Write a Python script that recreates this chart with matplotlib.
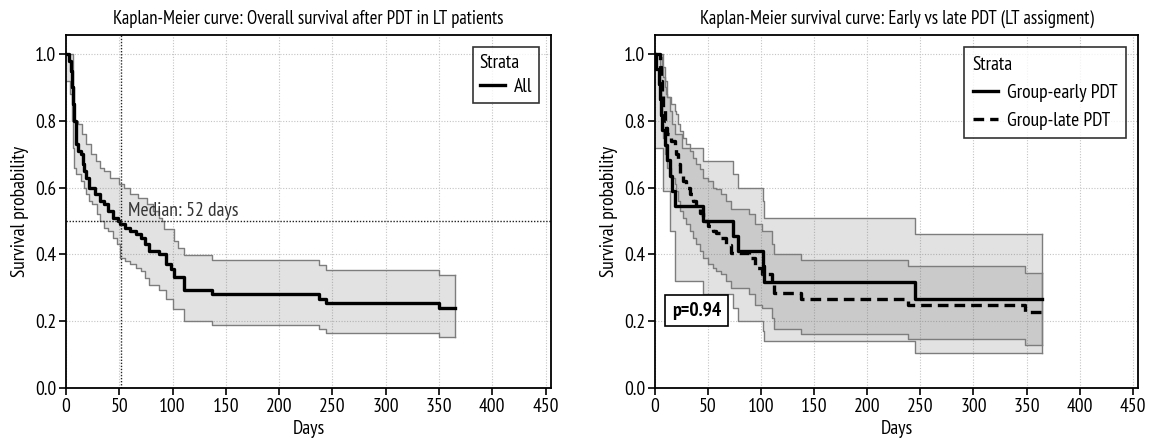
import matplotlib

matplotlib.use("Agg")

import matplotlib.pyplot as plt  # noqa: E402
from matplotlib import font_manager  # noqa: E402
import numpy as np  # noqa: E402

_installed = {f.name for f in font_manager.fontManager.ttflist}
_wanted = ["Myriad Pro", "PT Sans Narrow", "Fira Sans Condensed", "Roboto Condensed",
           "IBM Plex Sans Condensed", "Liberation Sans Narrow"]
FONT = next((n for n in _wanted if n in _installed), "DejaVu Sans")
plt.rcParams["font.family"] = [FONT, "DejaVu Sans"]
plt.rcParams["font.size"] = 13

END_DAY = 365
MEDIAN_DAY = 52

# overall cohort (left panel)
all_days = [0, 3, 4.5, 5.5, 6.5, 7.5, 9, 11, 14, 15.6, 17, 19, 22, 27, 31.5, 36, 39, 44, 49, 50.6,
            55, 60, 66, 70, 74.5, 78, 87, 94, 98.75, 101.6, 111, 136.5, 237, 244, 350]
all_surv = [1.0, 0.98, 0.95, 0.9, 0.85, 0.8, 0.73, 0.71, 0.70, 0.67, 0.65, 0.63, 0.60, 0.58, 0.56, 0.55,
            0.53, 0.51, 0.50, 0.49, 0.48, 0.47, 0.46, 0.45, 0.43, 0.41, 0.40, 0.372, 0.357, 0.332,
            0.294, 0.28, 0.267, 0.254, 0.239]
all_up_days = [0, 6.5, 7.5, 11, 14.6, 19, 23.6, 28, 31.5, 36, 41, 50, 54, 60, 68, 76, 82, 87, 90, 92,
               101.6, 105, 111, 136.5, 237, 244, 350]
all_up = [1.0, 0.9, 0.80, 0.79, 0.76, 0.73, 0.70, 0.68, 0.66, 0.65, 0.63, 0.61, 0.60, 0.58, 0.57, 0.55,
          0.53, 0.51, 0.50, 0.477, 0.44, 0.42, 0.397, 0.382, 0.367, 0.352, 0.337]
all_lo_days = [0, 4, 5.5, 6.5, 7.5, 9, 14, 17, 19, 22, 24.7, 29, 31.5, 36, 39, 44, 48, 50.6, 55.6, 60,
               66, 70, 74.5, 78, 87, 94, 100, 111, 136.5, 237, 244, 350]
all_lo = [0.92, 0.88, 0.80, 0.72, 0.66, 0.64, 0.62, 0.60, 0.58, 0.56, 0.55, 0.52, 0.50, 0.48, 0.47, 0.45,
          0.43, 0.39, 0.38, 0.37, 0.36, 0.35, 0.33, 0.307, 0.292, 0.267, 0.237, 0.202, 0.19, 0.178,
          0.165, 0.153]

# early PDT group (right panel)
early_days = [0, 0.5, 4, 5, 6, 7, 9.4, 11.6, 14, 15.6, 18.75, 45, 73.4, 78, 101.5, 103, 244.5]
early_surv = [1.0, 0.955, 0.909, 0.864, 0.818, 0.773, 0.727, 0.682, 0.636, 0.591, 0.545, 0.5, 0.455,
              0.409, 0.364, 0.318, 0.265]
early_up_days = [0, 8, 9.4, 11.6, 14, 15.6, 18.75, 25, 45, 73.4, 78, 101.5, 103, 244.5]
early_up = [1.0, 0.96, 0.92, 0.87, 0.83, 0.79, 0.76, 0.72, 0.68, 0.64, 0.60, 0.56, 0.51, 0.46]
early_lo_days = [0, 7.8, 14, 18.75, 45, 73.4, 78, 101.5, 103, 244.5]
early_lo = [0.72, 0.59, 0.47, 0.32, 0.28, 0.24, 0.20, 0.17, 0.14, 0.105]

# late PDT group (right panel)
late_days = [0, 5, 6, 7, 8, 9, 10, 11, 15, 18.75, 20, 22, 24, 26.6, 29, 32.8, 36, 39, 42, 45.3,
             50, 54.7, 57.8, 62.5, 67.2, 71.9, 89, 93.75, 101, 110, 112, 137.5, 238, 349]
late_surv = [1.0, 0.96, 0.92, 0.88, 0.84, 0.80, 0.78, 0.76, 0.74, 0.72, 0.70, 0.67, 0.64, 0.62, 0.60,
             0.58, 0.56, 0.54, 0.524, 0.50, 0.484, 0.469, 0.464, 0.449, 0.429, 0.404, 0.39, 0.36,
             0.34, 0.31, 0.285, 0.265, 0.248, 0.228]
late_up = [1.0, 1.0, 0.99, 0.96, 0.93, 0.9, 0.88, 0.87, 0.85, 0.83, 0.82, 0.79, 0.77, 0.75, 0.73, 0.71,
           0.69, 0.67, 0.655, 0.63, 0.62, 0.60, 0.595, 0.58, 0.56, 0.535, 0.52, 0.49, 0.47, 0.43,
           0.40, 0.384, 0.364, 0.344]
late_lo = [1.0, 0.89, 0.84, 0.79, 0.75, 0.70, 0.68, 0.66, 0.63, 0.61, 0.59, 0.56, 0.53, 0.51, 0.49,
           0.47, 0.45, 0.43, 0.41, 0.39, 0.37, 0.36, 0.35, 0.34, 0.32, 0.30, 0.28, 0.25, 0.24, 0.21,
           0.178, 0.163, 0.146, 0.13]

P_TEXT = "p=0.94"

BAND_COLOR = "#6e6e6e"
BAND_ALPHA = 0.2
EDGE_COLOR = "#7d7d7d"


def _extend(days, values):
    return list(days) + [END_DAY], list(values) + [values[-1]]


def _step_at(days, values, grid):
    idx = np.searchsorted(np.asarray(days, dtype=float), grid, side="right") - 1
    return np.asarray(values, dtype=float)[idx]


def _band(ax, lo_days, lo, up_days, up):
    grid = np.union1d(np.asarray(lo_days, dtype=float), np.asarray(up_days, dtype=float))
    grid = np.append(grid, END_DAY)
    lo_v = _step_at(lo_days, lo, grid)
    up_v = _step_at(up_days, up, grid)
    ax.fill_between(grid, lo_v, up_v, step="post", color=BAND_COLOR, alpha=BAND_ALPHA, linewidth=0)
    for d, v in ((lo_days, lo), (up_days, up)):
        x, y = _extend(d, v)
        ax.step(x, y, where="post", color=EDGE_COLOR, linewidth=1.0)
    ax.plot([END_DAY, END_DAY], [lo[-1], up[-1]], color=EDGE_COLOR, linewidth=1.0)


def _style(ax, title):
    ax.set_xlim(0, 455)
    ax.set_ylim(0, 1.057)
    ax.set_xticks(np.arange(0, 451, 50))
    ax.set_yticks(np.arange(0, 1.01, 0.2))
    ax.set_yticklabels([f"{v:.1f}" for v in np.arange(0, 1.01, 0.2)])
    ax.grid(True, linestyle=(0, (1, 1.5)), color="#c4c4c4", linewidth=0.8)
    ax.set_axisbelow(True)
    for sp in ax.spines.values():
        sp.set_linewidth(1.3)
        sp.set_color("black")
    ax.tick_params(direction="out", length=5, width=1.2, labelsize=14, pad=2)
    ax.set_xlabel("Days", fontsize=14, labelpad=3)
    ax.set_ylabel("Survival probability", fontsize=14, labelpad=4)
    ax.set_title(title, fontsize=13.5, pad=8)


def _legend(ax, spacing, pad):
    leg = ax.legend(title="Strata", loc="upper right", fancybox=False, edgecolor="black",
                    fontsize=14, title_fontsize=14, handlelength=1.3, handletextpad=0.45,
                    borderpad=pad, borderaxespad=0.0, labelspacing=spacing,
                    bbox_to_anchor=(0.975, 0.965))
    leg.get_frame().set_linewidth(1.2)
    leg._legend_box.align = "left"


fig = plt.figure(figsize=(11.5, 4.44), dpi=100)
ax1 = fig.add_axes([66 / 1150, 56 / 444, 485 / 1150, 353 / 444])
ax2 = fig.add_axes([655 / 1150, 56 / 444, 483 / 1150, 353 / 444])

# left panel: overall survival
_band(ax1, all_lo_days, all_lo, all_up_days, all_up)
x, y = _extend(all_days, all_surv)
ax1.step(x, y, where="post", color="black", linewidth=2.4, label="All")
ax1.axhline(0.5, color="#222222", linestyle=(0, (1, 1.2)), linewidth=1.0)
ax1.axvline(MEDIAN_DAY, color="#222222", linestyle=(0, (1, 1.2)), linewidth=1.0)
ax1.text(MEDIAN_DAY + 6, 0.515, f"Median: {MEDIAN_DAY} days", fontsize=14, color="#333333")
_style(ax1, "Kaplan-Meier curve: Overall survival after PDT in LT patients")
_legend(ax1, 0.3, 0.35)

# right panel: early vs late
_band(ax2, early_lo_days, early_lo, early_up_days, early_up)
_band(ax2, late_days, late_lo, late_days, late_up)
x, y = _extend(early_days, early_surv)
ax2.step(x, y, where="post", color="black", linewidth=2.4, label="Group-early PDT")
x, y = _extend(late_days, late_surv)
ax2.step(x, y, where="post", color="black", linewidth=2.4, linestyle=(0, (3.2, 1.8)),
         label="Group-late PDT")
ax2.text(16, 0.232, P_TEXT, fontsize=14, fontweight="bold", va="center",
         bbox=dict(boxstyle="square,pad=0.35", facecolor="white", edgecolor="black", linewidth=1.2))
_style(ax2, "Kaplan-Meier survival curve: Early vs late PDT (LT assigment)")
_legend(ax2, 0.5, 0.45)

fig.savefig("out.png", dpi=100)
plt.close(fig)
